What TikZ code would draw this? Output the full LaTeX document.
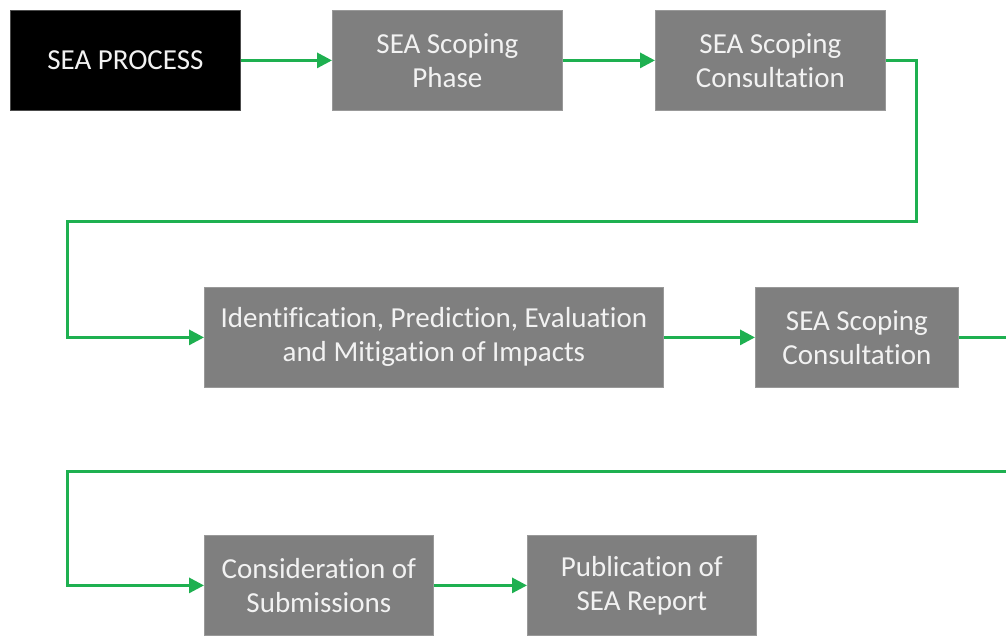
\documentclass[tikz,border=0pt]{standalone}
\usepackage{fontspec}
\setmainfont[Ligatures=NoCommon]{Carlito}
\usetikzlibrary{arrows.meta}
\definecolor{boxgray}{HTML}{7F7F7F}
\definecolor{arrgreen}{HTML}{1EB050}
\definecolor{txtwhite}{HTML}{F2F2F2}
\begin{document}
\begin{tikzpicture}[x=1pt,y=-1pt,
  procbox/.style={draw=boxgray!80, line width=0.8pt, fill=boxgray, text=txtwhite, minimum height=100pt, inner sep=0pt, align=center,
    font=\fontsize{29}{34}\selectfont, anchor=north west},
  startbox/.style={procbox, fill=black, draw=black!70},
  flow/.style={draw=arrgreen, line width=3pt, -{Triangle[length=15pt,width=15pt]}},
  flowline/.style={draw=arrgreen, line width=3pt}]
\clip (0,0) rectangle (1006,637);
\fill[white] (0,0) rectangle (1006,637);
\node[startbox, minimum width=230pt] (b1) at (10,10) {SEA PROCESS};
\node[procbox, minimum width=230pt] (b2) at (332,10) {SEA Scoping\\Phase};
\node[procbox, minimum width=230pt] (b3) at (655,10) {SEA Scoping\\Consultation};
\node[procbox, minimum width=459pt] (b4) at (204,287) {Identification, Prediction, Evaluation\\and Mitigation of Impacts};
\node[procbox, minimum width=203pt] (b5) at (755,287) {SEA Scoping\\Consultation};
\node[procbox, minimum width=229pt] (b6) at (204,535) {Consideration of\\Submissions};
\node[procbox, minimum width=229pt] (b7) at (527,535) {Publication of\\SEA Report};
\coordinate (r1) at (916,221);
\coordinate (l1) at (67,221);
\coordinate (r2) at (1020,471);
\coordinate (l2) at (67,471);
\draw[flow] (b1.east) -- (b2.west);
\draw[flow] (b2.east) -- (b3.west);
\draw[flow] (b3.east) -| (r1) -- (l1) |- (b4.west);
\draw[flow] (b4.east) -- (b5.west);
\draw[flow] (b5.east) -| (r2) -- (l2) |- (b6.west);
\draw[flow] (b6.east) -- (b7.west);
\end{tikzpicture}
\end{document}
